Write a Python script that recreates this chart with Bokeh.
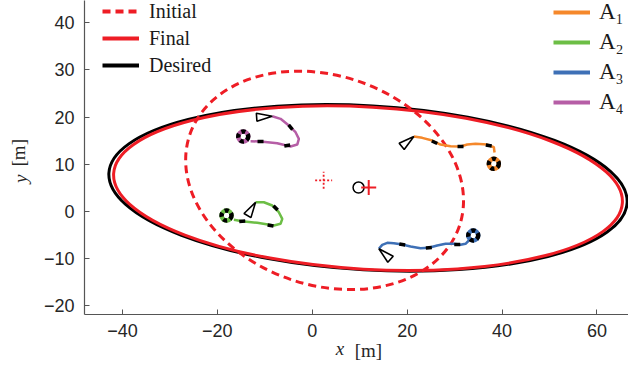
import numpy as np
from bokeh.plotting import figure
from bokeh.models import FixedTicker, Legend, LegendItem, LinearAxis
from bokeh.embed import file_html
from bokeh.resources import INLINE

# ---------------- data ----------------
x_ticks = [-40, -20, 0, 20, 40, 60]
x_tick_labels = ["\u221240", "\u221220", "0", "20", "40", "60"]
y_ticks = [-20, -10, 0, 10, 20, 30, 40]
y_tick_labels = ["\u221220", "\u221210", "0", "10", "20", "30", "40"]

# formation ellipses: Initial, Final, Desired
ellipse_names = ["Initial", "Final", "Desired"]
ellipse_cx = [2.6, 11.75, 11.75]
ellipse_cy = [6.6, 4.95, 5.0]
ellipse_a = [30.0, 53.7, 54.7]       # semi-axis along tilt
ellipse_b = [22.2, 17.2, 17.4]       # other semi-axis
ellipse_tilt_deg = [-18.7, -3.3, -3.3]

# centre markers
initial_center = (2.4, 6.6)
final_center = (11.9, 5.1)
desired_center = (9.76, 5.08)

agent_names = ["A\u2081", "A\u2082", "A\u2083", "A\u2084"]

a1_x = [21.41, 23.18, 25.29, 27.04, 29.15, 31.25, 32.67, 34.42, 36.88, 38.27, 38.42]
a1_y = [15.89, 15.61, 15.04, 14.19, 13.83, 13.77, 14.19, 14.34, 14.19, 13.62, 12.5]
a2_x = [-11.95, -10.20, -8.43, -7.04, -6.32, -6.68, -8.09, -11.59, -14.75, -16.52]
a2_y = [1.97, 1.97, 1.27, -0.15, -1.55, -2.61, -2.97, -2.39, -2.06, -1.76]
a3_x = [14.04, 14.75, 15.81, 17.20, 18.97, 20.72, 22.82, 24.57, 26.34, 28.09, 29.84, 31.25, 32.31, 33.00]
a3_y = [-7.90, -7.06, -6.63, -6.72, -6.99, -7.42, -7.78, -7.69, -7.20, -6.84, -6.84, -7.06, -6.84, -6.14]
a4_x = [-8.43, -6.68, -4.93, -3.52, -2.82, -3.16, -4.57, -7.38, -10.90, -13.00]
a4_y = [20.19, 19.64, 18.22, 16.80, 15.40, 14.19, 13.77, 14.47, 14.83, 14.89]

# initial heading of each agent (deg), drawn as a triangle at the path start
start_heading = [39, 59, 138, 4]

# end loops (centre)
loop_x = [38.27, -18.06, 33.93, -14.54]
loop_y = [10.11, -0.85, -5.08, 15.89]

# black heading marks along the paths
mark_x = [25.77, 31.25, 37.2, -7.73, -8.79, -14.75, 18.97, 24.57, 30.56, -4.57, -5.27, -10.9]
mark_y = [14.68, 13.77, 13.98, 0.78, -2.97, -2.06, -6.99, -7.69, -6.99, 17.86, 13.98, 14.83]
mark_dir = [-25, 0, -10, -45, -10, 5, -10, 5, 0, -50, 10, 0]

# ---------------- styling ----------------
RED = "#EE1D25"
agent_colors = ["#F5882B", "#6CBE45", "#3E70B6", "#B65EA6"]
AX = "#555555"
TXT = "#262626"
TRI_LEN, TRI_HALF_W = 3.3, 0.85   # triangle size in data units

p = figure(frame_width=544, frame_height=314,
           x_range=(-48, 66.65), y_range=(-21.82, 44.71),
           output_backend="svg", toolbar_location=None,
           min_border_left=84, min_border_right=0,
           min_border_top=0, min_border_bottom=49)
p.outline_line_color = None
p.grid.visible = False
p.background_fill_color = "white"

for ax, ticks, labels in ((p.xaxis, x_ticks, x_tick_labels), (p.yaxis, y_ticks, y_tick_labels)):
    ax.ticker = FixedTicker(ticks=ticks)
    ax.major_label_overrides = {t: l for t, l in zip(ticks, labels)}
    ax.axis_line_color = AX
    ax.axis_line_width = 1.2
    ax.major_tick_line_color = AX
    ax.major_tick_in = 5
    ax.major_tick_out = 0
    ax.minor_tick_line_color = None
    ax.major_label_text_font = "Liberation Sans"
    ax.major_label_text_font_size = "18px"
    ax.major_label_text_color = TXT
    ax.axis_label_text_font = "Liberation Serif"
    ax.axis_label_text_font_size = "19px"
    ax.axis_label_text_color = TXT
    ax.axis_label_text_font_style = "italic"
p.xaxis.major_label_standoff = 9
p.yaxis.major_label_standoff = 10
NB = "\u00a0"
p.xaxis.axis_label = "x" + NB * 7
p.xaxis.axis_label_standoff = -2
p.yaxis.axis_label = "y" + NB * 9
p.yaxis.axis_label_standoff = 10

# second (empty) axes that only carry the upright unit "[m]" beside the italic symbol
for place, txt in (("below", NB * 5 + "[m]"), ("left", NB * 2 + "[m]")):
    ua = LinearAxis(ticker=FixedTicker(ticks=[]), axis_line_color=None,
                    major_tick_line_color=None, minor_tick_line_color=None,
                    major_label_text_font_size="0px", axis_label=txt,
                    axis_label_text_font="Liberation Serif", axis_label_text_font_size="19px",
                    axis_label_text_font_style="normal",
                    axis_label_text_color=TXT, axis_label_standoff=-22)
    p.add_layout(ua, place)

# ellipses
styles = [dict(line_color=RED, line_dash="8 5"),
          dict(line_color=RED),
          dict(line_color="black")]
for i in [2, 1, 0]:
    p.ellipse(x=ellipse_cx[i], y=ellipse_cy[i], width=2 * ellipse_a[i], height=2 * ellipse_b[i],
              angle=np.deg2rad(ellipse_tilt_deg[i]), fill_color=None, line_width=3, **styles[i])

# centre markers
p.scatter([desired_center[0]], [desired_center[1]], marker="circle", size=11,
          fill_color=None, line_color="black", line_width=1.5)
p.scatter([final_center[0]], [final_center[1]], marker="cross", size=15,
          line_color=RED, line_width=2)
p.scatter([initial_center[0]], [initial_center[1]], marker="cross", size=17,
          line_color=RED, line_width=1.8, line_dash="2 2")

# agents
paths = [(a1_x, a1_y), (a2_x, a2_y), (a3_x, a3_y), (a4_x, a4_y)]
for (xs, ys), c in zip(paths, agent_colors):
    p.line(xs, ys, line_color=c, line_width=2.5)
for lx, ly, c in zip(loop_x, loop_y, agent_colors):
    p.circle(x=lx, y=ly, radius=1.05, fill_color=None, line_color=c, line_width=4.5)
    p.circle(x=lx, y=ly, radius=1.05, fill_color=None, line_color="black",
             line_width=4.5, line_dash="4 3")
p.scatter(mark_x, mark_y, marker="dash", size=6, angle=np.deg2rad(mark_dir),
          line_color="black", line_width=3.5)

# start triangles: apex at the first path point, pointing along the heading
tri_xs, tri_ys = [], []
for (xs, ys), h in zip(paths, start_heading):
    hr = np.deg2rad(h)
    d = np.array([np.cos(hr), np.sin(hr)])
    n = np.array([-d[1], d[0]])
    apex = np.array([xs[0], ys[0]])
    base = apex - TRI_LEN * d
    pts = [apex, base + TRI_HALF_W * n, base - TRI_HALF_W * n]
    tri_xs.append([q[0] for q in pts])
    tri_ys.append([q[1] for q in pts])
p.patches(tri_xs, tri_ys, fill_color=None, line_color="black", line_width=1.6)

# legend proxies (one NaN point, so nothing is drawn in the plot area)
nan = np.array([np.nan])
r_init = p.line(nan, nan, line_color=RED, line_width=4, line_dash="8 5")
r_fin = p.line(nan, nan, line_color=RED, line_width=4)
r_des = p.line(nan, nan, line_color="black", line_width=4)
leg1 = Legend(items=[LegendItem(label=ellipse_names[0], renderers=[r_init]),
                     LegendItem(label=ellipse_names[1], renderers=[r_fin]),
                     LegendItem(label=ellipse_names[2], renderers=[r_des])],
              location=(18, 237))
agent_proxies = [p.line(nan, nan, line_color=c, line_width=4) for c in agent_colors]
leg2 = Legend(items=[LegendItem(label=n, renderers=[r]) for n, r in zip(agent_names, agent_proxies)],
              location=(469, 199))
for lg, fs, st in ((leg1, "20px", 10), (leg2, "23px", 9)):
    lg.background_fill_alpha = 0
    lg.border_line_color = None
    lg.padding = 0
    lg.margin = 0
    lg.glyph_width = 37
    lg.glyph_height = 24
    lg.label_height = 24
    lg.label_standoff = st
    lg.label_text_font = "Liberation Serif"
    lg.label_text_font_size = fs
    lg.label_text_color = "#1a1a1a"
leg1.spacing = 3
leg2.spacing = 4
p.add_layout(leg1)
p.add_layout(leg2)

open("out.html", "w").write(file_html(p, INLINE))
